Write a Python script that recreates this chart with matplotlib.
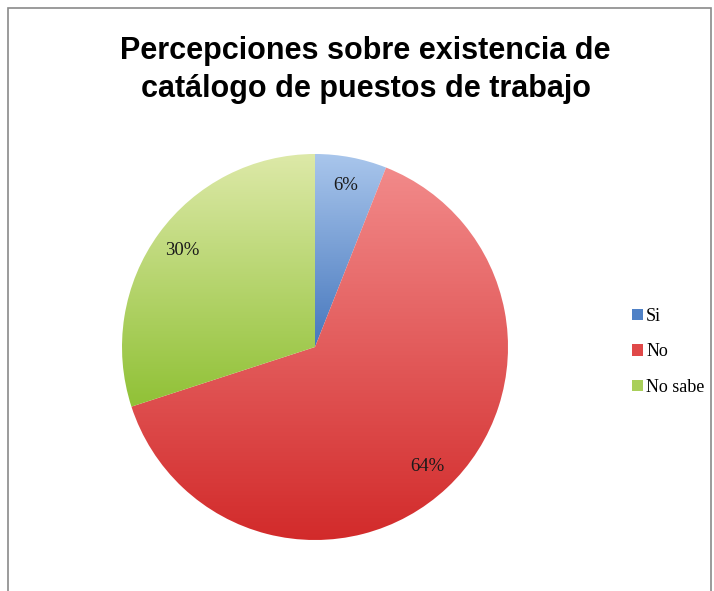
import numpy as np
import matplotlib
matplotlib.use("Agg")
import matplotlib.pyplot as plt
from matplotlib.colors import to_rgba
from matplotlib.patches import Rectangle, Patch

# Survey answers
categories = ["Si", "No", "No sabe"]
values = [6, 64, 30]
pct_labels = ["6%", "64%", "30%"]

# top / bottom colours of each slice gradient
top_colors = ["#a9c6ec", "#f28a8a", "#dde9a8"]
bottom_colors = ["#4677bd", "#d22a2a", "#90c136"]
legend_colors = ["#4f81c6", "#e04848", "#a9cf5a"]

fig = plt.figure(figsize=(7.14, 5.91), dpi=100)

# thin grey frame round the chart area
fig.patches.append(Rectangle((8 / 714, -0.02), 703 / 714, 1 - 8 / 591 + 0.02,
                             transform=fig.transFigure, fill=False,
                             edgecolor="#8a8a8a", linewidth=1.2))

fig.text(0.512, 1 - 70 / 591, "Percepciones sobre existencia de\ncatálogo de puestos de trabajo",
         ha="center", va="center", fontsize=22, fontweight="bold",
         family="Liberation Sans", linespacing=1.32)

ax = fig.add_axes([122 / 714, 51 / 591, 386 / 714, 386 / 591])
wedges, texts = ax.pie(values, startangle=90, counterclock=False,
                       wedgeprops=dict(linewidth=0))

for w, c0, c1 in zip(wedges, top_colors, bottom_colors):
    verts = w.get_patch_transform().transform(w.get_path().vertices)
    x0, y0 = verts.min(axis=0)
    x1, y1 = verts.max(axis=0)
    t = np.linspace(0, 1, 256)[:, None]
    grad = (1 - t) * np.array(to_rgba(c0)) + t * np.array(to_rgba(c1))
    img = ax.imshow(grad[:, None, :], extent=(x0, x1, y0, y1), aspect="auto",
                    interpolation="bilinear", zorder=1)
    img.set_clip_path(w)
    w.set_facecolor("none")

# percentage labels at the middle angle of each slice
start = 90
total = sum(values)
for v, lab in zip(values, pct_labels):
    mid = np.deg2rad(start - 360 * v / total / 2)
    r = 0.85
    ax.text(r * np.cos(mid), r * np.sin(mid), lab, ha="center", va="center",
            fontsize=13.5, family="Liberation Serif", color="#1a1a1a", zorder=3)
    start -= 360 * v / total

ax.set_xlim(-1, 1)
ax.set_ylim(-1, 1)
ax.set_aspect("equal")
ax.axis("off")

handles = [Patch(facecolor=c, edgecolor="none") for c in legend_colors]
fig.legend(handles, categories, loc="center left", bbox_to_anchor=(0.862, 1 - 352 / 591),
           frameon=False, prop={"family": "Liberation Serif", "size": 13},
           handlelength=0.6, handleheight=0.6, handletextpad=0.2,
           labelspacing=1.02)

fig.savefig("out.png", dpi=100)
